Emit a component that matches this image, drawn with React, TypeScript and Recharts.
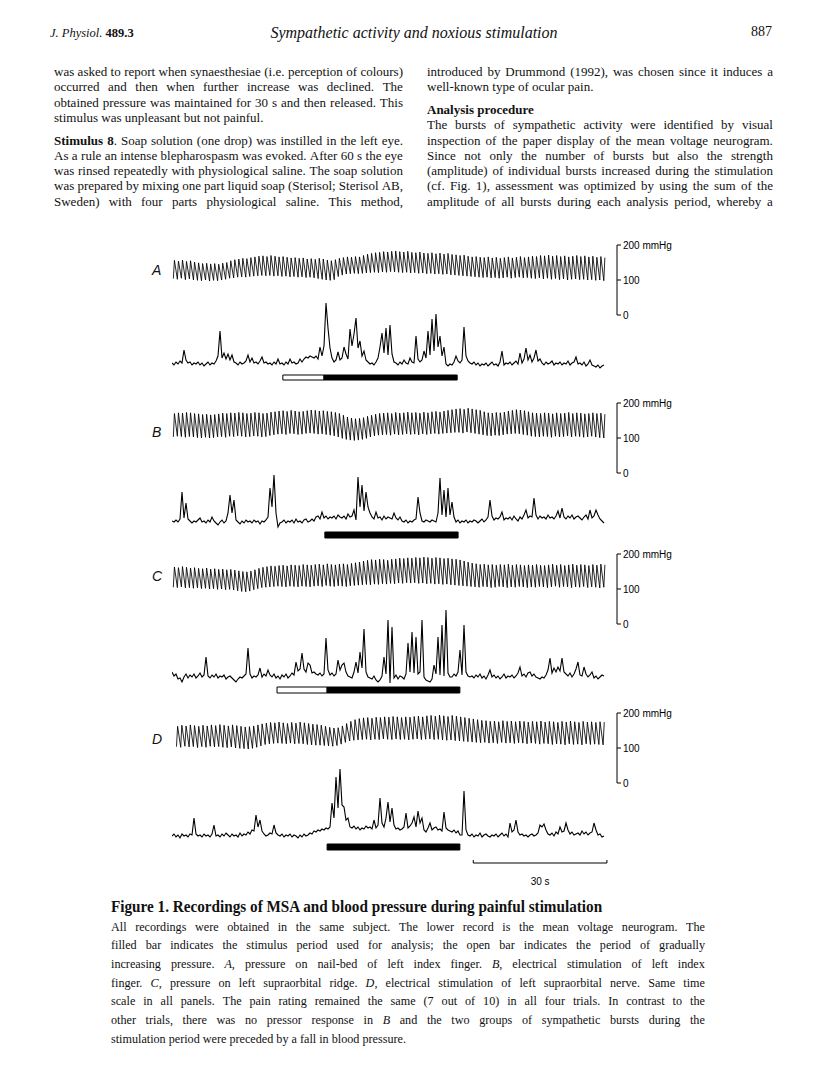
import React from "react"
import { LineChart, Line, XAxis, YAxis, ReferenceArea, ReferenceLine } from "recharts"

const SERIF = "'Liberation Serif', 'Times New Roman', serif"
const SANS = "'Liberation Sans', Arial, Helvetica, sans-serif"
const INK = "#111"

// same time scale in every panel: 30 s = 134 px
const PX_PER_S = 4.47
const PLOT_W = 445
const X_MAX = PLOT_W / PX_PER_S
const MSA_DT = 2 / PX_PER_S // neurogram sample spacing (s)

// ---- A: pressure on nail-bed of left index finger ----
// blood pressure per beat (mmHg)
const sysA = [
  156, 154, 157, 153, 155, 151, 149, 147, 148, 146,
  147, 145, 148, 150, 155, 158, 160, 162, 161, 164,
  166, 168, 169, 167, 170, 168, 166, 167, 165, 163,
  164, 162, 163, 160, 161, 159, 162, 160, 157, 155,
  158, 162, 164, 166, 165, 167, 166, 170, 174, 176,
  178, 179, 181, 180, 182, 183, 181, 180, 182, 179,
  178, 180, 177, 176, 178, 175, 177, 174, 176, 173,
  172, 170, 171, 168, 166, 167, 165, 164, 166, 163,
  165, 162, 164, 166, 163, 165, 167, 164, 166, 168,
  167, 170, 169, 171, 168, 170, 167, 169, 166, 168,
  170, 167, 169, 166, 168, 165, 167, 164,
]
const diaA = [
  104, 102, 105, 101, 103, 100, 99, 98, 100, 97,
  99, 98, 100, 102, 105, 106, 108, 109, 108, 110,
  111, 112, 113, 112, 113, 111, 112, 110, 111, 109,
  110, 108, 109, 107, 108, 106, 104, 102, 100, 99,
  101, 110, 114, 117, 118, 119, 118, 119, 120, 121,
  122, 121, 123, 122, 124, 123, 122, 121, 122, 120,
  121, 119, 120, 118, 119, 117, 118, 116, 117, 115,
  114, 113, 112, 111, 110, 109, 108, 107, 108, 106,
  107, 105, 106, 108, 105, 107, 108, 106, 107, 105,
  104, 106, 103, 105, 102, 104, 101, 103, 100, 102,
  103, 101, 102, 100, 101, 99, 100, 98,
]
// mean voltage neurogram (arbitrary units)
const msaA = [
  5, 3, 6, 4, 7, 5, 18, 8, 5, 6,
  3, 5, 4, 6, 3, 5, 2, 4, 6, 3,
  5, 4, 7, 12, 37, 10, 15, 9, 14, 8,
  13, 6, 5, 3, 6, 4, 5, 7, 13, 6,
  10, 5, 6, 4, 7, 11, 5, 6, 4, 5,
  3, 6, 4, 9, 4, 5, 3, 6, 4, 9,
  5, 6, 4, 5, 9, 6, 9, 11, 10, 12,
  11, 10, 12, 9, 21, 12, 22, 65, 40, 20,
  10, 6, 8, 16, 8, 10, 21, 14, 9, 39,
  22, 34, 50, 20, 27, 12, 17, 8, 6, 4,
  5, 3, 6, 10, 21, 35, 15, 40, 13, 43,
  14, 6, 5, 3, 6, 4, 8, 5, 4, 10,
  6, 5, 32, 9, 6, 8, 17, 10, 37, 13,
  49, 17, 54, 21, 32, 12, 21, 4, 2, 4,
  3, 6, 12, 7, 5, 8, 41, 12, 7, 5,
  4, 6, 3, 5, 2, 4, 3, 5, 2, 4,
  6, 3, 4, 2, 6, 17, 3, 5, 4, 6,
  3, 5, 7, 4, 15, 5, 9, 20, 8, 13,
  6, 10, 18, 7, 9, 5, 3, 6, 4, 5,
  7, 3, 5, 4, 6, 3, 5, 4, 7, 3,
  5, 6, 11, 4, 5, 3, 6, 2, 4, 8,
  3, 2, 1, 3, 0, 2, 3,
]
const openBarA = [24.8, 34.0]
const filledBarA = [34.0, 63.8]

// ---- B: electrical stimulation of left index finger ----
const sysB = [
  170, 172, 171, 173, 172, 170, 169, 167, 168, 166,
  167, 169, 171, 170, 172, 171, 173, 172, 170, 171,
  173, 172, 170, 171, 174, 175, 177, 178, 176, 179,
  177, 175, 176, 178, 180, 179, 177, 178, 176, 175,
  173, 170, 165, 160, 157, 155, 156, 158, 162, 165,
  168, 170, 171, 172, 170, 173, 171, 172, 174, 172,
  173, 171, 174, 172, 175, 176, 174, 177, 179, 181,
  183, 184, 182, 185, 183, 181, 179, 175, 172, 171,
  173, 172, 174, 177, 179, 181, 180, 178, 175, 172,
  171, 170, 172, 171, 169, 172, 170, 171, 173, 170,
  172, 171, 169, 170, 172, 170, 171, 168,
]
const diaB = [
  103, 105, 104, 102, 104, 103, 101, 100, 102, 100,
  101, 103, 104, 102, 105, 104, 106, 105, 103, 104,
  106, 105, 103, 104, 107, 109, 111, 112, 110, 113,
  112, 110, 111, 113, 114, 113, 111, 112, 110, 108,
  106, 103, 99, 96, 94, 93, 94, 96, 99, 103,
  106, 108, 109, 110, 108, 111, 109, 110, 112, 110,
  111, 109, 112, 110, 112, 113, 111, 113, 114, 115,
  116, 116, 114, 117, 115, 113, 111, 109, 107, 106,
  108, 107, 109, 111, 112, 113, 112, 110, 108, 105,
  104, 103, 105, 104, 102, 105, 103, 104, 106, 103,
  105, 104, 102, 103, 105, 103, 101, 100,
]
const msaB = [
  4, 3, 5, 3, 6, 33, 7, 22, 6, 4,
  2, 4, 3, 5, 7, 3, 4, 2, 5, 3,
  8, 4, 2, 0, 3, 5, 2, 4, 12, 30,
  12, 25, 5, 3, 1, 4, 2, 5, 3, 4,
  2, 5, 3, 4, 1, 4, 3, 5, 8, 37,
  18, 50, 12, -2, 2, 3, 5, 2, 4, 3,
  5, 2, 6, 3, 4, 2, 5, 6, 3, 4,
  6, 4, 8, 9, 6, 13, 7, 9, 6, 8,
  7, 9, 6, 10, 8, 7, 9, 6, 11, 8,
  9, 15, 5, 48, 18, 40, 14, 33, 18, 12,
  8, 6, 13, 7, 8, 5, 9, 6, 8, 7,
  6, 12, 7, 5, 8, 4, 3, 5, 2, 4,
  3, 5, 6, 28, 12, 4, 3, 5, 4, 3,
  5, 4, 3, 12, 47, 10, 35, 8, 37, 10,
  23, 8, 3, 5, 2, 4, 3, 5, 2, 4,
  3, 5, 4, 2, 4, 6, 3, 5, 8, 25,
  9, 5, 7, 6, 8, 13, 5, 7, 6, 8,
  5, 9, 6, 4, 8, 6, 10, 15, 7, 9,
  8, 27, 10, 6, 9, 7, 8, 6, 10, 7,
  8, 6, 9, 14, 7, 17, 8, 6, 9, 7,
  10, 6, 8, 9, 7, 5, 8, 10, 6, 15,
  7, 9, 15, 10, 6, 4, 2,
]
const filledBarB = [34.2, 64.0]

// ---- C: pressure on left supraorbital ridge ----
const sysC = [
  163, 161, 164, 162, 160, 161, 159, 158, 160, 157,
  158, 156, 157, 155, 156, 154, 152, 150, 149, 151,
  155, 159, 162, 164, 166, 165, 167, 168, 166, 169,
  168, 167, 170, 169, 168, 170, 171, 169, 172, 170,
  169, 171, 172, 170, 173, 175, 177, 180, 182, 184,
  183, 185, 184, 182, 185, 186, 188, 187, 189, 188,
  190, 189, 191, 190, 188, 190, 189, 187, 188, 186,
  185, 183, 180, 177, 174, 172, 170, 171, 169, 170,
  168, 170, 169, 171, 168, 170, 169, 167, 169, 168,
  170, 168, 167, 169, 171, 168, 170, 167, 169, 171,
  168, 170, 169, 167, 170, 168, 171, 169,
]
const diaC = [
  105, 104, 106, 103, 104, 102, 103, 101, 102, 100,
  101, 99, 100, 98, 99, 97, 95, 93, 92, 94,
  98, 101, 104, 105, 106, 107, 108, 107, 106, 108,
  107, 106, 108, 107, 106, 108, 109, 107, 110, 108,
  107, 109, 108, 107, 109, 110, 111, 112, 113, 112,
  114, 113, 115, 114, 116, 115, 117, 116, 118, 117,
  118, 116, 117, 115, 116, 114, 115, 113, 114, 112,
  111, 110, 109, 108, 107, 106, 105, 107, 106, 104,
  105, 107, 106, 104, 106, 105, 107, 106, 104, 106,
  105, 107, 106, 104, 106, 108, 105, 107, 106, 104,
  106, 105, 107, 104, 106, 105, 103, 105,
]
const msaC = [
  10, 6, 8, 3, 4, 0, 5, 8, 4, 7,
  5, 8, 4, 6, 9, 5, 7, 25, 6, 4,
  7, 5, 8, 4, 6, 5, 7, 3, 5, 6,
  4, 2, 0, 3, 5, 4, 6, 8, 34, 8,
  4, 6, 5, 7, 14, 5, 8, 6, 12, 7,
  5, 8, 4, 6, 3, 7, 5, 8, 4, 6,
  9, 7, 20, 11, 13, 29, 13, 10, 19, 17,
  9, 10, 8, 7, 9, 6, 8, 44, 12, 7,
  9, 6, 8, 22, 12, 17, 19, 10, 6, 5,
  4, 10, 20, 9, 30, 14, 53, 10, 5, 4,
  3, 6, 2, 0, 2, 6, 25, 8, 62, -1,
  55, 4, 7, 3, 6, 5, 3, 8, 39, 10,
  50, 9, 45, 8, 10, 62, 5, 2, 1, 0,
  3, 17, 8, 45, 7, 57, 6, 72, 9, 5,
  5, 8, 6, 10, 32, 7, 57, 10, 6, 5,
  6, 4, 7, 5, 8, 4, 6, 3, 7, 12,
  5, 7, 4, 6, 3, 5, 8, 4, 6, 5,
  7, 4, 6, 9, 15, 6, 8, 5, 9, 10,
  6, 8, 5, 4, 3, 5, 4, 7, 12, 24,
  9, 14, 10, 15, 11, 24, 10, 8, 6, 9,
  5, 8, 13, 20, 7, 6, 15, 8, 5, 7,
  10, 4, 6, 3, 5, 7, 6,
]
const openBarC = [23.5, 34.7]
const filledBarC = [34.7, 64.4]

// ---- D: electrical stimulation of left supraorbital nerve ----
const sysD = [
  162, 165, 163, 166, 164, 162, 165, 163, 166, 164,
  167, 165, 163, 166, 164, 162, 160, 161, 163, 166,
  169, 171, 173, 172, 174, 172, 170, 173, 171, 174,
  172, 170, 168, 167, 165, 162, 159, 157, 158, 163,
  170, 176, 181, 184, 186, 187, 185, 188, 187, 189,
  188, 190, 189, 187, 189, 188, 190, 191, 189, 192,
  193, 191, 194, 192, 190, 193, 191, 189, 187, 185,
  183, 181, 179, 178, 176, 177, 175, 178, 176, 177,
  175, 177, 176, 174, 176, 175, 177, 174, 176, 175,
  173, 176, 174, 177, 175, 173, 176, 174, 175, 173,
  175, 174,
]
const diaD = [
  104, 102, 105, 103, 104, 101, 104, 102, 105, 103,
  104, 102, 101, 103, 100, 99, 98, 97, 99, 102,
  106, 110, 112, 113, 114, 113, 112, 114, 112, 113,
  112, 110, 109, 108, 108, 107, 106, 105, 107, 111,
  116, 120, 122, 123, 124, 125, 123, 125, 124, 126,
  125, 124, 126, 124, 125, 123, 125, 126, 124, 125,
  126, 124, 125, 123, 122, 123, 121, 120, 119, 118,
  117, 116, 115, 116, 114, 115, 113, 116, 114, 115,
  113, 115, 114, 112, 114, 113, 111, 113, 112, 110,
  112, 111, 109, 112, 110, 111, 109, 112, 110, 111,
  110, 109,
]
const msaD = [
  4, 6, 3, 5, 2, 6, 4, 5, 3, 6,
  5, 22, 6, 4, 5, 3, 6, 4, 5, 3,
  6, 15, 4, 5, 3, 6, 4, 7, 5, 3,
  6, 4, 5, 3, 7, 4, 6, 5, 8, 6,
  10, 9, 25, 13, 20, 9, 6, 4, 5, 7,
  6, 15, 7, 5, 4, 6, 3, 5, 4, 6,
  3, 5, 4, 2, 5, 3, 6, 4, 5, 7,
  6, 9, 8, 10, 9, 11, 10, 12, 11, 13,
  37, 22, 63, 32, 71, 35, 33, 20, 22, 13,
  12, 14, 11, 13, 10, 12, 11, 14, 12, 13,
  11, 20, 12, 15, 42, 17, 13, 22, 38, 18,
  32, 15, 11, 12, 10, 11, 13, 27, 12, 14,
  17, 23, 13, 29, 17, 22, 10, 8, 12, 17,
  10, 12, 13, 10, 11, 9, 28, 12, 10, 9,
  8, 10, 7, 9, 5, 5, 49, 10, 5, 4,
  6, 3, 5, 4, 7, 3, 5, 6, 4, 3,
  5, 4, 6, 3, 5, 7, 4, 6, 3, 17,
  8, 10, 20, 8, 5, 6, 4, 5, 3, 5,
  6, 4, 5, 7, 15, 13, 16, 10, 6, 5,
  7, 4, 8, 6, 13, 8, 9, 17, 10, 6,
  8, 5, 6, 7, 5, 9, 6, 8, 5, 7,
  8, 17, 10, 5, 6, 3, 4,
]
const filledBarD = [34.7, 64.4]
const timeBar = [67.4, 97.3] // 30 s

const bpTicks = [0, 100, 200]

const panels = [
  { id: "A", sys: sysA, dia: diaA, beat0: 0.3, beat: 0.9, msa: msaA, open: openBarA, filled: filledBarA },
  { id: "B", sys: sysB, dia: diaB, beat0: 0.3, beat: 0.9, msa: msaB, open: null, filled: filledBarB },
  { id: "C", sys: sysC, dia: diaC, beat0: 0.3, beat: 0.9, msa: msaC, open: openBarC, filled: filledBarC },
  { id: "D", sys: sysD, dia: diaD, beat0: 1.0, beat: 0.945, msa: msaD, open: null, filled: filledBarD },
]

// page positions (px); neurogram units are 1 px each
const layout: Record<string, any> = {
  A: { bpTop: 245, msaRef: 368, msaHi: 70, msaLo: -16, barY: [-7, -12], letterY: 275 },
  B: { bpTop: 403, msaRef: 525, msaHi: 55, msaLo: -16, barY: [-7, -13], letterY: 437 },
  C: { bpTop: 554, msaRef: 682, msaHi: 77, msaLo: -14, barY: [-5, -11], letterY: 581 },
  D: { bpTop: 713, msaRef: 840, msaHi: 75, msaLo: -48, barY: [-4, -10], letterY: 744 },
}

// ---- page text ----
type TLine = { x: number; y: number; w?: number; size: number; text: string; just?: boolean; base?: string; sx?: number; align?: string; font?: string }

const BODY = 13
const leftY = [76, 91.3, 106.5, 121.8, 144.6, 159.9, 175.1, 190.4, 205.6]
const rightY = [76, 91.3, 114.1, 129.4, 144.6, 159.9, 175.1, 190.4, 205.6]
const leftText = [
  "was asked to report when synaesthesiae (i.e. perception of colours)",
  "occurred and then when further increase was declined. The",
  "obtained pressure was maintained for 30 s and then released. This",
  "stimulus was unpleasant but not painful.",
  "*Stimulus* *8*. Soap solution (one drop) was instilled in the left eye.",
  "As a rule an intense blepharospasm was evoked. After 60 s the eye",
  "was rinsed repeatedly with physiological saline. The soap solution",
  "was prepared by mixing one part liquid soap (Sterisol; Sterisol AB,",
  "Sweden) with four parts physiological saline. This method,",
]
const rightText = [
  "introduced by Drummond (1992), was chosen since it induces a",
  "well-known type of ocular pain.",
  "Analysis procedure",
  "The bursts of sympathetic activity were identified by visual",
  "inspection of the paper display of the mean voltage neurogram.",
  "Since not only the number of bursts but also the strength",
  "(amplitude) of individual bursts increased during the stimulation",
  "(cf. Fig. 1), assessment was optimized by using the sum of the",
  "amplitude of all bursts during each analysis period, whereby a",
]
const captionY = [931, 949.7, 968.4, 987.1, 1005.8, 1024.5, 1043.2]
const captionText = [
  "All recordings were obtained in the same subject. The lower record is the mean voltage neurogram. The",
  "filled bar indicates the stimulus period used for analysis; the open bar indicates the period of gradually",
  "increasing pressure. _A_, pressure on nail-bed of left index finger. _B_, electrical stimulation of left index",
  "finger. _C_, pressure on left supraorbital ridge. _D_, electrical stimulation of left supraorbital nerve. Same time",
  "scale in all panels. The pain rating remained the same (7 out of 10) in all four trials. In contrast to the",
  "other trials, there was no pressor response in _B_ and the two groups of sympathetic bursts during the",
  "stimulation period were preceded by a fall in blood pressure.",
]

const pageLines: TLine[] = [
  { x: 50, y: 37, size: 12.5, text: "_J._ _Physiol._ *489.3*" },
  { x: 414, y: 38, size: 16, text: "Sympathetic activity and noxious stimulation", base: "i", align: "c" },
  { x: 772, y: 37, size: 14, text: "887", align: "r" },
  ...leftText.map((t, i) => ({ x: 54, y: leftY[i], w: 349, size: BODY, text: t, just: i !== 3 })),
  ...rightText.map((t, i) => ({ x: 427, y: rightY[i], w: 346, size: BODY, text: t, just: i !== 1 && i !== 2, base: i === 2 ? "b" : undefined })),
  { x: 111, y: 912, size: 16, text: "Figure 1. Recordings of MSA and blood pressure during painful stimulation", base: "b", sx: 0.95 },
  ...captionText.map((t, i) => ({ x: 111, y: captionY[i], w: 594, size: 13.5, sx: 0.9, text: t, just: i !== 6 })),
  ...panels.map((p) => ({ x: 152, y: layout[p.id].letterY, size: 14, text: p.id, base: "i", font: SANS })),
]

function renderWord(w: string, key: number) {
  const parts = w.split(/(\*[^*]+\*|_[^_]+_)/).filter(Boolean)
  return (
    <span key={key}>
      {parts.map((s, j) =>
        s.startsWith("*") ? <b key={j}>{s.slice(1, -1)}</b> : s.startsWith("_") ? <i key={j}>{s.slice(1, -1)}</i> : s
      )}
    </span>
  )
}

function TextLine({ ln }: { ln: TLine }) {
  const sx = ln.sx || 1
  let left = ln.x
  let width: number | undefined = ln.w ? ln.w / sx : undefined
  if (ln.align === "c") { left = ln.x - 200; width = 400 }
  if (ln.align === "r") { left = ln.x - 200; width = 200 }
  const style: React.CSSProperties = {
    position: "absolute", left, top: ln.y - 0.84 * ln.size, width,
    fontSize: ln.size, lineHeight: `${ln.size}px`, fontFamily: ln.font || SERIF, color: INK,
    whiteSpace: "pre", textAlign: ln.align === "c" ? "center" : ln.align === "r" ? "right" : "left",
    fontStyle: ln.base === "i" ? "italic" : "normal", fontWeight: ln.base === "b" ? "bold" : "normal",
    transform: sx !== 1 ? `scaleX(${sx})` : undefined, transformOrigin: "0 0",
  }
  const words = ln.text.split(" ")
  if (ln.just) {
    return <div style={{ ...style, display: "flex", justifyContent: "space-between" }}>{words.map(renderWord)}</div>
  }
  return (
    <div style={style}>
      {words.map((wd, i) => (
        <React.Fragment key={i}>{i ? " " : ""}{renderWord(wd, i)}</React.Fragment>
      ))}
    </div>
  )
}

// ---- charts ----
function BpTick(props: any) {
  const { x, y, payload } = props
  return (
    <text x={x} y={y} dy={3.5} fontSize={10} fontFamily={SANS} fill="#000" textAnchor="start">
      {payload.value === 200 ? "200 mmHg" : String(payload.value)}
    </text>
  )
}

function BpChart({ p, top }: { p: any; top: number }) {
  const rows: { t: number; bp: number }[] = []
  p.sys.forEach((s: number, k: number) => {
    const t = p.beat0 + k * p.beat
    rows.push({ t, bp: p.dia[k] })
    rows.push({ t: t + p.beat * 0.27, bp: s })
  })
  return (
    <div style={{ position: "absolute", left: 172, top: top - 8 }}>
      <LineChart width={PLOT_W + 70} height={86} data={rows} margin={{ top: 8, right: 0, bottom: 8, left: 0 }}>
        <XAxis type="number" dataKey="t" domain={[0, X_MAX]} hide allowDataOverflow />
        <YAxis
          orientation="right"
          domain={[0, 200]}
          ticks={bpTicks}
          interval={0}
          width={70}
          tickSize={4}
          tickMargin={2}
          axisLine={{ stroke: "#000" }}
          tickLine={{ stroke: "#000" }}
          tick={BpTick}
          allowDataOverflow
        />
        <Line type="linear" dataKey="bp" stroke="#000" strokeWidth={0.85} dot={false} isAnimationActive={false} />
      </LineChart>
    </div>
  )
}

function MsaChart({ p, l, scaleBar }: { p: any; l: any; scaleBar: boolean }) {
  const rows = p.msa.map((v: number, i: number) => ({ t: i * MSA_DT, v }))
  const h = l.msaHi - l.msaLo
  const yBar = -23
  return (
    <div style={{ position: "absolute", left: 172, top: l.msaRef - l.msaHi }}>
      <LineChart width={PLOT_W + 60} height={h} data={rows} margin={{ top: 0, right: 60, bottom: 0, left: 0 }}>
        <XAxis type="number" dataKey="t" domain={[0, X_MAX]} hide allowDataOverflow />
        <YAxis domain={[l.msaLo, l.msaHi]} hide allowDataOverflow />
        {p.open && (
          <ReferenceArea x1={p.open[0]} x2={p.open[1]} y1={l.barY[0]} y2={l.barY[1]} fill="#fff" fillOpacity={1} stroke="#000" strokeWidth={1} />
        )}
        <ReferenceArea x1={p.filled[0]} x2={p.filled[1]} y1={l.barY[0]} y2={l.barY[1]} fill="#000" fillOpacity={1} stroke="#000" />
        <Line type="linear" dataKey="v" stroke="#000" strokeWidth={1.1} dot={false} isAnimationActive={false} />
        {scaleBar && (
          <ReferenceLine
            segment={[{ x: timeBar[0], y: yBar }, { x: timeBar[1], y: yBar }]}
            stroke="#000"
            label={{ value: "30 s", position: "bottom", offset: 15, fill: "#000", fontSize: 10, fontFamily: SANS }}
          />
        )}
        {scaleBar && <ReferenceLine segment={[{ x: timeBar[0], y: yBar }, { x: timeBar[0], y: yBar + 3 }]} stroke="#000" />}
        {scaleBar && <ReferenceLine segment={[{ x: timeBar[1], y: yBar }, { x: timeBar[1], y: yBar + 3 }]} stroke="#000" />}
      </LineChart>
    </div>
  )
}

export default function App() {
  return (
    <div style={{ position: "absolute", left: 0, top: 0, width: 816, height: 1088, background: "#fff", overflow: "hidden" }}>
      {pageLines.map((ln, i) => <TextLine key={i} ln={ln} />)}
      {panels.map((p) => (
        <React.Fragment key={p.id}>
          <BpChart p={p} top={layout[p.id].bpTop} />
          <MsaChart p={p} l={layout[p.id]} scaleBar={p.id === "D"} />
        </React.Fragment>
      ))}
    </div>
  )
}
